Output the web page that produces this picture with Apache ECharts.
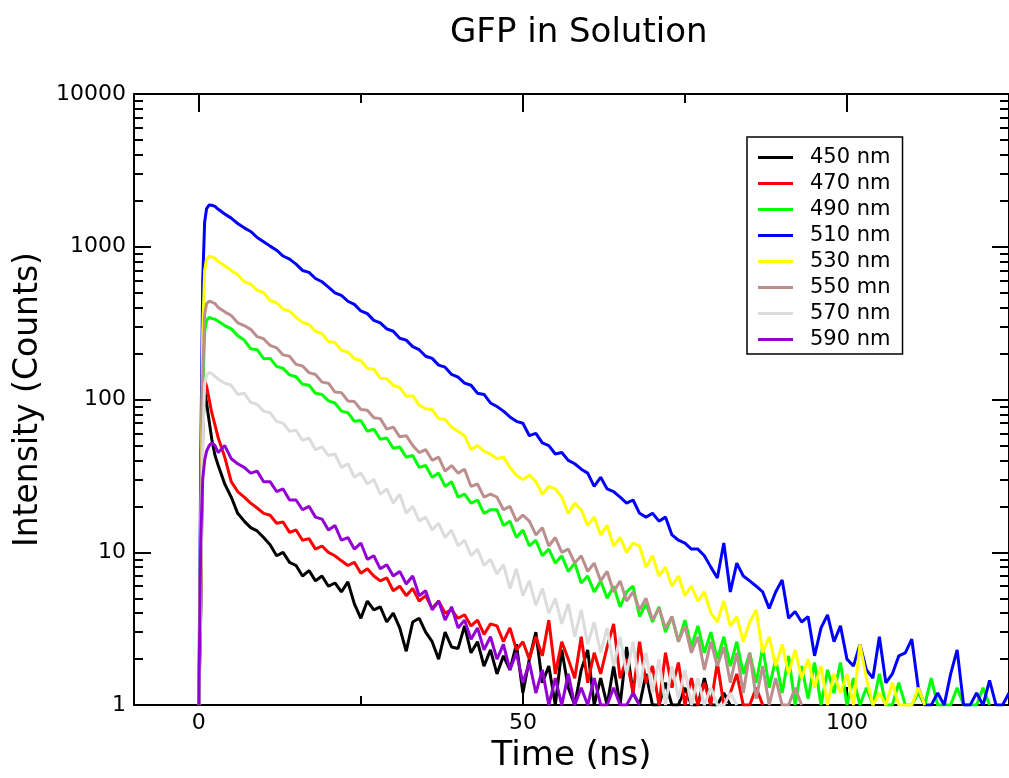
<!DOCTYPE html>
<html>
<head>
<meta charset="utf-8">
<script src="https://cdn.jsdelivr.net/npm/echarts@6/dist/echarts.min.js"></script>
<style>
html,body{margin:0;padding:0;background:#fff;}
#chart{width:1009px;height:778px;}
</style>
</head>
<body>
<div id="chart"></div>
<script>
// Sample times (ns)
const timeNs = [0, 0.3, 0.6, 0.9, 1.2, 1.6, 2, 2.5, 3,
  4, 5, 6, 7, 8, 9, 10, 11, 12, 13,
  14, 15, 16, 17, 18, 19, 20, 21, 22, 23,
  24, 25, 26, 27, 28, 29, 30, 31, 32, 33,
  34, 35, 36, 37, 38, 39, 40, 41, 42, 43,
  44, 45, 46, 47, 48, 49, 50, 51, 52, 53,
  54, 55, 56, 57, 58, 59, 60, 61, 62, 63,
  64, 65, 66, 67, 68, 69, 70, 71, 72, 73,
  74, 75, 76, 77, 78, 79, 80, 81, 82, 83,
  84, 85, 86, 87, 88, 89, 90, 91, 92, 93,
  94, 95, 96, 97, 98, 99, 100, 101, 102, 103,
  104, 105, 106, 107, 108, 109, 110, 111, 112, 113,
  114, 115, 116, 117, 118, 119, 120, 121, 122, 123,
  124, 125];

const seriesNames = ['450 nm', '470 nm', '490 nm', '510 nm', '530 nm', '550 mn', '570 nm', '590 nm'];

const counts450 = [1, 4, 60, 115, 95, 72, 55, 43, 37,
  28, 23, 18, 16, 14.5, 13.8, 12.5, 11.2, 9.5, 10,
  8.6, 8.2, 7, 7.6, 6.5, 7, 6, 6.3, 5.5, 6.4,
  4.6, 3.7, 4.8, 4.2, 4.4, 3.5, 4, 3.2, 2.25, 3.5,
  3.7, 3, 2.6, 2, 3, 2.4, 2.35, 3.3, 2.2, 2.6,
  1.8, 2.3, 1.6, 2.1, 1.7, 2.5, 1.2, 2, 3, 1.4,
  1.8, 1, 2.3, 1.3, 1, 1.7, 2.3, 1, 1.5, 1,
  1.8, 1, 2.4, 1.2, 1, 1.6, 1, 1, 1.4, 1,
  1, 1.3, 1, 1, 1.5, 1, 1, 1.2, 1];

const counts470 = [1, 5, 70, 135, 122, 100, 82, 68, 56,
  42, 29, 25, 23, 21, 19.5, 18, 17.5, 15.5, 15.8,
  13.5, 14, 12, 12.3, 10.5, 11, 10, 9.5, 8.8, 8.2,
  8.6, 7.3, 7.8, 7, 6.5, 6.8, 5.6, 6, 5.2, 5.8,
  4.8, 5.2, 4.3, 4.8, 4, 4.2, 3.7, 3.9, 3.3, 3.6,
  2.9, 3.4, 3.3, 2.6, 3.2, 2.3, 2.6, 2, 2.8, 2.1,
  3.6, 1.6, 2.6, 2, 1.5, 2.8, 1.4, 2.2, 1.6, 2.4,
  3.4, 1.5, 2, 1.2, 2.6, 1.4, 1.8, 1, 2.2, 1.3,
  1.9, 1, 1.5, 1, 1.4, 1, 1.9, 1, 1.2, 1.6,
  1, 1, 1.3, 1];

const counts490 = [1, 8, 110, 280, 330, 345, 340, 335, 325,
  305, 290, 262, 245, 215, 212, 185, 186, 165, 160,
  145, 141, 126, 124, 110, 108, 98, 95, 84, 82,
  72, 73, 62, 64, 55, 56, 48, 49, 42, 43,
  36, 37, 31, 33, 27, 29, 23, 24, 21, 22,
  18, 19, 19, 15, 16, 12.5, 14, 11, 12, 9.5,
  10.5, 8.5, 9.5, 7.5, 8.5, 6.3, 7, 5.5, 6.5, 5,
  6, 4.4, 5.5, 6, 3.8, 4.6, 3.5, 4.4, 3, 3.8,
  2.6, 3.6, 2.4, 3.3, 2.2, 3, 2, 2.8, 1.8, 2.6,
  1.6, 2.2, 1.4, 2.4, 1.3, 2, 1.2, 2.1, 1, 1.8,
  1.1, 1.9, 1, 1.7, 1.2, 1.9, 1, 1.5, 1, 1.3,
  1, 1.6, 1, 1, 1.4, 1, 1, 1.2, 1, 1.5,
  1, 1, 1, 1.3, 1, 1, 1, 1.3, 1];

const counts510 = [1, 40, 600, 1450, 1780, 1880, 1870, 1840, 1760,
  1640, 1540, 1420, 1330, 1260, 1150, 1080, 1010, 950, 870,
  830, 770, 700, 680, 620, 590, 545, 500, 480, 440,
  420, 380, 365, 330, 318, 290, 280, 252, 245, 222,
  212, 192, 186, 168, 163, 146, 140, 128, 124, 110,
  108, 95, 90, 84, 77, 72, 70, 58, 60, 52,
  50, 44, 45, 40, 38, 35, 33, 27, 31, 26,
  25, 23, 21, 22, 18, 17, 18, 16, 17, 13,
  12, 11.5, 10.5, 10.5, 9.5, 8, 6.8, 11.5, 5.5, 8.5,
  7, 6.5, 6, 5.5, 4.3, 5.5, 6.6, 3.7, 4.1, 3.5,
  3.8, 2.1, 3.2, 3.9, 2.6, 3.3, 2, 1.8, 2.5, 1.7,
  1.5, 2.8, 1.4, 1.6, 2.1, 2.2, 2.7, 1.3, 1, 1,
  1.2, 1, 1.6, 2.3, 1, 1, 1.2, 1, 1.45, 1,
  1, 1.2];

const counts530 = [1, 15, 280, 700, 830, 865, 860, 840, 800,
  750, 700, 655, 590, 570, 520, 500, 445, 430, 390,
  380, 345, 320, 310, 280, 270, 240, 236, 210, 205,
  185, 180, 160, 158, 138, 137, 124, 120, 105, 106,
  92, 87, 86, 75, 74, 66, 62, 58, 47, 50,
  46, 44, 41, 42, 36, 32, 30, 32, 29, 24,
  27, 26, 23, 18, 21, 19, 15, 17, 13, 15,
  11, 12.5, 10, 11.5, 11, 8, 9.5, 7, 8, 6,
  7, 5.2, 6, 4.8, 5.5, 4, 3.5, 4.8, 3.3, 3.8,
  2.6, 3.5, 4.2, 2.2, 2.8, 1.8, 2.5, 1.6, 2.3, 1.5,
  2, 1.3, 1.8, 1, 1.6, 1.2, 1.6, 1, 2.5, 1.5,
  1, 1.2, 1, 1.4, 1, 1, 1, 1.3, 1];

const counts550 = [1, 10, 140, 360, 425, 440, 435, 425, 400,
  375, 355, 318, 305, 288, 258, 250, 226, 218, 196,
  192, 170, 166, 150, 146, 130, 128, 112, 111, 98,
  97, 86, 85, 76, 75, 64, 66, 57, 58, 50,
  45, 47, 40, 42, 34, 37, 33, 35, 27, 28,
  23, 24, 23, 19, 20, 16, 17.5, 16, 13, 14.5,
  11, 12.5, 10, 10.5, 8.5, 9.5, 7.5, 8.5, 6.5, 7.5,
  5.5, 6.5, 4.8, 5.5, 4.2, 5, 3.6, 4.3, 3.2, 3.8,
  2.6, 3.3, 2.2, 2.8, 1.7, 2.6, 1.8, 2.4, 1.4, 2.2,
  1.2, 2.2, 1.1, 1.8, 1, 1.5, 1, 1, 1.3, 1];

const counts570 = [1, 5, 50, 125, 145, 150, 148, 142, 136,
  128, 124, 108, 110, 96, 93, 84, 82, 72, 70,
  62, 63, 54, 56, 47, 49, 43, 44, 36, 38,
  31, 33, 28, 30, 24, 26, 21, 24, 18, 20,
  16, 17, 14, 15.5, 12.5, 14, 11, 12, 9.5, 10.5,
  8.2, 9, 7.2, 8.3, 5.8, 7.8, 5.2, 6.5, 4.5, 5.8,
  4, 5, 3.4, 4.6, 2.8, 4.2, 2.5, 3.5, 2.2, 3.2,
  1.8, 2.8, 1.6, 2.6, 1.3, 2.2, 1.2, 2, 1, 1.8,
  1.1, 1.7, 1, 1.5, 1, 1.3, 1, 1, 1.2, 1];

const counts590 = [1, 12, 30, 40, 46, 50, 52, 50, 45,
  50, 41, 38, 36, 33, 34, 29, 29, 25, 26,
  22, 22, 19, 20, 17, 16.5, 14, 15, 12, 12.5,
  10.5, 11.5, 9, 9.5, 7.8, 8.3, 7, 7.5, 6.2, 7,
  5.2, 5.6, 4.2, 4.8, 3.6, 4.4, 3.2, 3.6, 2.7, 3.2,
  2.3, 2.8, 2, 2.5, 1.7, 2.2, 1.4, 1.9, 1.2, 1.7,
  1, 1.5, 1, 1.6, 1, 1.3, 1, 1.5, 1, 1,
  1.3, 1, 1, 1.2, 1];

const seriesCounts = [counts450, counts470, counts490, counts510, counts530, counts550, counts570, counts590];
const seriesColors = ['#000000', '#ff0000', '#00ff00', '#0000ff', '#ffff00', '#bc8f8f', '#dcdcdc', '#9400d3'];

const xMajorTicks = [0, 50, 100];
const xMinorTicks = [25, 75];
const yMajorTicks = [1, 10, 100, 1000, 10000];
const yMinorTicks = [2, 3, 4, 5, 6, 7, 8, 9, 20, 30, 40, 50, 60, 70, 80, 90,
  200, 300, 400, 500, 600, 700, 800, 900, 2000, 3000, 4000, 5000, 6000, 7000, 8000, 9000];

const FONT = 'DejaVu Sans';
const black = '#000';

function xAx(pos, ticks, len, showLine, label, extra) {
  return Object.assign({
    type: 'value', position: pos, min: -10, max: 125,
    splitLine: {show: false},
    axisLine: {show: showLine, onZero: false, lineStyle: {color: black, width: 2}},
    axisTick: {show: true, inside: true, length: len, customValues: ticks, lineStyle: {color: black, width: 2}},
    axisLabel: label ? {show: true, customValues: ticks, fontSize: 22, color: black, fontFamily: FONT, margin: 7} : {show: false},
    axisPointer: {show: false}
  }, extra || {});
}
function yAx(pos, ticks, len, showLine, label, extra) {
  return Object.assign({
    type: 'log', logBase: 10, position: pos, min: 1, max: 10000,
    splitLine: {show: false},
    axisLine: {show: showLine, onZero: false, lineStyle: {color: black, width: 2}},
    axisTick: {show: true, inside: true, length: len, customValues: ticks, lineStyle: {color: black, width: 2}},
    axisLabel: label ? {show: true, customValues: ticks, fontSize: 22, color: black, fontFamily: FONT, margin: 8,
      formatter: function (v) { return String(Math.round(v)); }} : {show: false},
    axisPointer: {show: false}
  }, extra || {});
}

const chart = echarts.init(document.getElementById('chart'), null, {renderer: 'canvas'});
chart.setOption({
  animation: false,
  backgroundColor: '#fff',
  title: {
    text: 'GFP in Solution', left: 445, top: 11,
    textStyle: {fontSize: 34, fontWeight: 'normal', color: black, fontFamily: FONT}
  },
  grid: {left: 134, top: 94, right: -1, bottom: 71, containLabel: false},
  legend: {
    orient: 'vertical', left: 747, top: 137,
    padding: [10, 12, 4, 11], itemGap: 5, itemWidth: 35, itemHeight: 3, icon: 'rect',
    borderColor: black, borderWidth: 1.5, backgroundColor: '#fff',
    textStyle: {fontSize: 21, lineHeight: 20, color: black, fontFamily: FONT, padding: [0, 0, 0, 12]},
    data: seriesNames
  },
  xAxis: [
    xAx('bottom', xMajorTicks, 18, true, true, {
      name: 'Time (ns)', nameLocation: 'middle', nameGap: 33,
      nameTextStyle: {fontSize: 34, color: black, fontFamily: FONT}
    }),
    xAx('bottom', xMinorTicks, 9, false, false),
    xAx('top', xMajorTicks, 18, true, false),
    xAx('top', xMinorTicks, 9, false, false)
  ],
  yAxis: [
    yAx('left', yMajorTicks, 17, true, true, {
      name: 'Intensity (Counts)', nameLocation: 'middle', nameGap: 88,
      nameTextStyle: {fontSize: 33, color: black, fontFamily: FONT}
    }),
    yAx('left', yMinorTicks, 9, false, false),
    yAx('right', yMajorTicks, 17, true, false),
    yAx('right', yMinorTicks, 9, false, false)
  ],
  series: seriesNames.map(function (name, k) {
    return {
      name: name, type: 'line', xAxisIndex: 0, yAxisIndex: 0,
      showSymbol: false, symbol: 'none', smooth: false,
      color: seriesColors[k],
      lineStyle: {color: seriesColors[k], width: 3},
      data: seriesCounts[k].map(function (v, i) { return [timeNs[i], v]; })
    };
  })
});
</script>
</body>
</html>
